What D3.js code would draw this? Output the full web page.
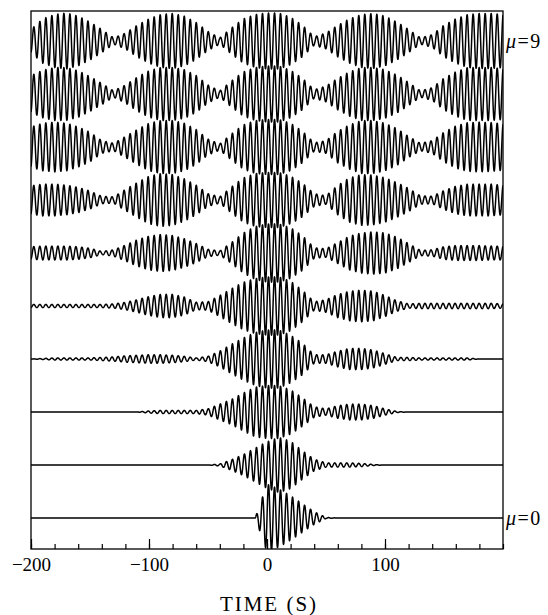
<!DOCTYPE html>
<html>
<head>
<meta charset="utf-8">
<script src="https://cdn.jsdelivr.net/npm/d3@7"></script>
<style>
  body { margin: 0; background: #fff; }
  svg { display: block; }
  .tick text { font-family: "Liberation Serif", "DejaVu Serif", serif; }
</style>
</head>
<body>
<svg id="chart" width="548" height="615"></svg>
<script>
// envelope samples, one value every 10 s from -200 to 200
// (amplitude in units of the spacing between two traces)
const envTimes = d3.range(-200, 201, 10)
const env0 = [0,0,0,0,0,0,0,0,0,0, 0,0,0,0,0,0,0,0,0,0, .64,.55,.42,.27,.12,.01, 0,0,0,0,0,0,0,0,0,0,0,0,0,0,0]
const env1 = [0,0,0,0,0,0,0,0,0,0, 0,0,0,0,0,0, .02,.1,.2,.32,.44,.52,.45,.27,.11,.04,.04,.04,.03,.01, 0,0,0,0,0,0,0,0,0,0,0]
const env2 = [0,0,0,0,0,0,0,0,0,0, .02,.03,.03,.03,.03,.06,.15,.24,.36,.47,.5,.5,.42,.27,.1,.06,.12,.15,.15,.12,.06,.01, 0,0,0,0,0,0,0,0,0]
const env3 = [0,.01,.02,.02,.02,.02,.03,.04,.06,.07,.08,.08,.07,.05,.02,.05,.15,.28,.4,.5,.55,.55,.45,.3,.08,.08,.15,.2,.2,.17,.1,.03,.03,.02,.02,.02,.02,.02,0,0,0]
const env4 = [.03,.03,.03,.03,.03,.03,.03,.04,.07,.12,.18,.22,.22,.17,.07,.08,.2,.33,.45,.52,.55,.55,.47,.3,.08,.12,.22,.28,.3,.28,.2,.1,.04,.05,.05,.05,.05,.05,.05,.05,.04]
const env5 = [.12,.13,.13,.13,.12,.09,.03,.06,.15,.25,.32,.35,.33,.27,.18,.07,.04,.2,.38,.5,.55,.55,.48,.33,.1,.08,.2,.32,.38,.4,.38,.3,.18,.05,.06,.12,.14,.14,.14,.13,.13]
const env6 = [.27,.3,.3,.28,.24,.17,.07,.06,.2,.33,.45,.5,.48,.4,.28,.12,.06,.25,.42,.5,.52,.52,.45,.32,.12,.08,.28,.42,.48,.47,.42,.33,.22,.08,.07,.18,.26,.3,.3,.3,.28]
const env7 = [.38,.45,.47,.45,.38,.28,.12,.07,.2,.33,.45,.5,.5,.45,.33,.15,.06,.25,.42,.5,.52,.52,.45,.3,.08,.12,.3,.42,.5,.5,.45,.35,.2,.07,.12,.28,.4,.46,.47,.46,.44]
const env8 = [.35,.45,.5,.5,.44,.33,.2,.06,.17,.32,.44,.5,.5,.46,.35,.17,.06,.25,.42,.5,.53,.53,.45,.3,.08,.15,.3,.42,.5,.5,.46,.36,.22,.06,.12,.3,.42,.5,.5,.5,.48]
const env9 = [.22,.42,.5,.53,.47,.36,.22,.06,.15,.3,.42,.5,.52,.47,.35,.18,.06,.25,.42,.5,.53,.53,.45,.3,.08,.15,.3,.42,.5,.52,.47,.36,.22,.06,.12,.3,.42,.5,.52,.52,.5]
const envelopes = [env0, env1, env2, env3, env4, env5, env6, env7, env8, env9]

const carrierPeriod = 5.1          // seconds, counted off the picture
const muLabels = [0, 9]
const majorTicks = [-200, -100, 0, 100]
const minorTicks = d3.range(-200, 201, 20)

const margin = {left: 31, right: 45, top: 11, bottom: 66}
const width = 548, height = 615
const plotW = width - margin.left - margin.right
const plotH = height - margin.top - margin.bottom

const svg = d3.select('#chart')
const g = svg.append('g').attr('transform', `translate(${margin.left},${margin.top})`)

const x = d3.scaleLinear().domain([-200, 200]).range([0, plotW])
const base = d3.scaleLinear().domain([0, 9]).range([507, 30])
const spacing = base(0) - base(1)
const amp = d3.scaleLinear().domain([0, 1]).range([0, spacing])

g.append('clipPath').attr('id', 'plotclip')
  .append('rect').attr('width', plotW).attr('height', plotH)

const line = d3.line().x(d => x(d[0])).y(d => d[1])

const traces = g.append('g').attr('clip-path', 'url(#plotclip)')
envelopes.forEach((env, mu) => {
  let envAt = d3.scaleLinear().domain(envTimes).range(env).clamp(true)
  let pts = d3.range(-200, 200.001, 0.2).map(t =>
    [t, base(mu) - amp(envAt(t)) * Math.sin(2 * Math.PI * t / carrierPeriod)])
  traces.append('path')
    .datum(pts)
    .attr('d', line)
    .attr('fill', 'none')
    .attr('stroke', '#000')
    .attr('stroke-width', 1.5)
    .attr('stroke-linejoin', 'round')
})

// frame
g.append('rect')
  .attr('width', plotW).attr('height', plotH)
  .attr('fill', 'none').attr('stroke', '#000').attr('stroke-width', 1.3)

// ticks point up into the plot
g.append('g').attr('transform', `translate(0,${plotH})`)
  .call(d3.axisBottom(x).tickValues(minorTicks).tickSizeInner(-5).tickSizeOuter(0).tickFormat(''))
  .call(a => a.select('.domain').remove())
g.append('g').attr('transform', `translate(0,${plotH})`)
  .call(d3.axisBottom(x).tickValues(majorTicks).tickSizeInner(-10).tickSizeOuter(0).tickPadding(9))
  .call(a => a.select('.domain').remove())
  .call(a => a.selectAll('text').attr('font-size', 19).attr('fill', '#000'))
g.selectAll('.tick line').attr('stroke', '#000').attr('stroke-width', 1.2)

svg.append('text')
  .attr('x', margin.left + x(0) + 2).attr('y', 611)
  .attr('text-anchor', 'middle')
  .attr('font-family', '"Liberation Serif", serif')
  .attr('font-size', 21).attr('letter-spacing', 2)
  .text('TIME (S)')

muLabels.forEach(mu => {
  let t = svg.append('text')
    .attr('x', margin.left + plotW + 3).attr('y', margin.top + base(mu) + 7)
    .attr('font-family', '"Liberation Serif", serif')
    .attr('font-size', 20).attr('letter-spacing', 1.5)
  t.append('tspan').attr('font-style', 'italic').text('μ')
  t.append('tspan').text('=' + mu)
})
</script>
</body>
</html>
